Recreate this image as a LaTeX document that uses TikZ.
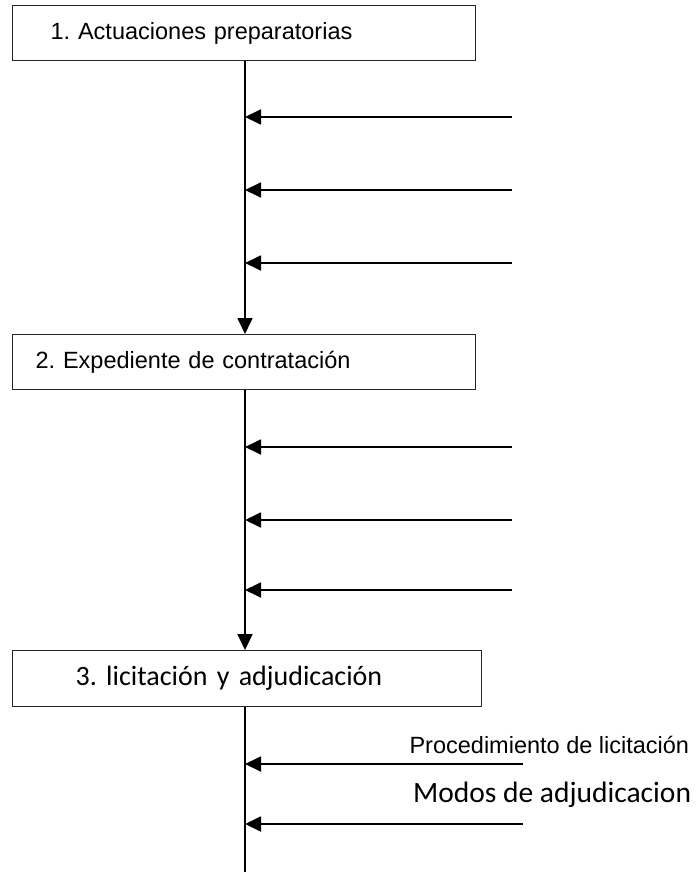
\documentclass[tikz,border=0pt]{standalone}
\usepackage{fontspec}
\setmainfont{Liberation Sans}
\newfontfamily\carlito{Carlito}
\usepackage{tikz}
\usetikzlibrary{positioning}
\usetikzlibrary{arrows.meta}
\frenchspacing

\begin{document}
\begin{tikzpicture}[
            x = 1pt, y = -1pt, % pixel like units
            > = {Triangle[length=16pt, width=15pt]}, % arrow head style
            line width = 1.8pt % line style
        ]

        \tikzstyle{etapa}=[
            draw = black!85,
            line width = 1.3pt,
            anchor = north west,
            minimum height = 55pt,
            align = left,
            inner ysep = 0pt,
            font = \fontsize{23.5}{27}\selectfont
        ]
        \tikzstyle{etiqueta}=[
            anchor = east,
            inner sep = 0pt
        ]

        \useasboundingbox (0,0) rectangle (696,872);
        \coordinate (eje) at (245,0);

	% etapas
        \node[etapa, inner xsep = 38pt, text width = 387pt] (E1) at (12,5) {1. Actuaciones preparatorias};
        \node[etapa, inner xsep = 23pt, text width = 417pt] (E2) at (12,334) {2. Expediente de contratación};
        \node[etapa, inner xsep = 63pt, text width = 343pt, minimum height = 56pt,
              font = \carlito\fontsize{28}{32}\selectfont] (E3) at (12,650) {3. licitación y adjudicación};

        % eje vertical
        \path[->] (E1.south -| eje) edge node {} (E2.north -| eje);
        \path[->] (E2.south -| eje) edge node {} (E3.north -| eje);
        \coordinate (fin) at (245,872);
        \draw (E3.south -| eje) -- (fin);

        % entradas de la etapa 1
        \coordinate (A1) at (512,117);
        \coordinate (A2) at (512,190);
        \coordinate (A3) at (512,263);
        \path[->] (A1) edge node {} (A1 -| eje);
        \path[->] (A2) edge node {} (A2 -| eje);
        \path[->] (A3) edge node {} (A3 -| eje);

        % entradas de la etapa 2
        \coordinate (B1) at (512,447);
        \coordinate (B2) at (512,520);
        \coordinate (B3) at (512,590);
        \path[->] (B1) edge node {} (B1 -| eje);
        \path[->] (B2) edge node {} (B2 -| eje);
        \path[->] (B3) edge node {} (B3 -| eje);

        % entradas de la etapa 3
        \node[etiqueta, font = \fontsize{23.5}{27}\selectfont] (proc) at (690,745) {Procedimiento de licitación};
        \node[etiqueta, font = \carlito\fontsize{29.5}{32}\selectfont] (modos) at (692,795) {Modos de adjudicacion};
        \coordinate (C1) at (523,764);
        \coordinate (C2) at (523,824);
        \path[->] (C1) edge node {} (C1 -| eje);
        \path[->] (C2) edge node {} (C2 -| eje);

  \end{tikzpicture}
\end{document}
